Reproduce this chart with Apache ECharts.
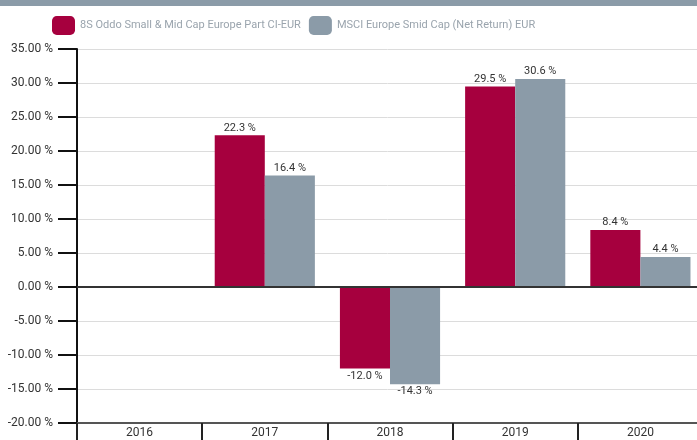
<!DOCTYPE html>
<html>
<head>
<meta charset="utf-8">
<script src="https://cdn.jsdelivr.net/npm/echarts@6/dist/echarts.min.js"></script>
<style>
  html, body { margin: 0; padding: 0; background: #fff; }
  #chart { width: 697px; height: 440px; }
</style>
</head>
<body>
<div id="chart"></div>
<script>
// 年度业绩柱状图
const years = ["2016", "2017", "2018", "2019", "2020"];
const fundName = "8S Oddo Small & Mid Cap Europe Part CI-EUR";
const indexName = "MSCI Europe Smid Cap (Net Return) EUR";
const fundValues = [null, 22.3, -12.0, 29.5, 8.4];
const indexValues = [null, 16.4, -14.3, 30.6, 4.4];

const RED = "#a6003e";
const GREY = "#8b9ba8";

// 负值标签放在柱子下面
const toData = (arr) =>
  arr.map((v) => ({
    value: v,
    label: { position: v != null && v < 0 ? "bottom" : "top" },
  }));

const barLabel = {
  show: true,
  distance: 2,
  color: "#333",
  fontSize: 11,
  fontFamily: "Roboto",
  formatter: (p) => p.value.toFixed(1) + " %",
};

const myChart = echarts.init(document.getElementById("chart"));

const option = {
  animation: false,
  graphic: [
    {
      type: "rect",
      left: 0,
      top: 0,
      shape: { width: 697, height: 6 },
      style: { fill: GREY },
    },
  ],
  legend: {
    left: 47,
    top: 11,
    itemWidth: 23,
    itemHeight: 19,
    itemGap: 8,
    icon: "roundRect",
    textStyle: {
      color: "#9aa4ad",
      fontSize: 11,
      fontFamily: "Roboto",
    },
    data: [fundName, indexName],
  },
  grid: {
    left: 77,
    width: 626,
    top: 49,
    bottom: 17,
    outerBoundsMode: "none",
  },
  xAxis: {
    type: "category",
    data: years,
    axisLine: { onZero: false, lineStyle: { color: "#555", width: 2 } },
    axisTick: { show: true, length: 17, lineStyle: { color: "#222", width: 2 } },
    axisLabel: { color: "#333", fontSize: 12, fontFamily: "Roboto", margin: 4 },
  },
  yAxis: {
    type: "value",
    min: -20,
    max: 35,
    interval: 5,
    axisLine: { show: true, lineStyle: { color: "#111", width: 2 } },
    axisTick: { show: true, length: 19, lineStyle: { color: "#111", width: 2 } },
    axisLabel: {
      color: "#333",
      fontSize: 12,
      fontFamily: "Roboto",
      margin: 24,
      formatter: (v) => v.toFixed(2) + " %",
    },
    splitLine: { lineStyle: { color: "#dcdcdc", width: 1 } },
  },
  series: [
    {
      name: fundName,
      type: "bar",
      barCategoryGap: "20%",
      barGap: "0%",
      itemStyle: { color: RED },
      label: barLabel,
      data: toData(fundValues),
      markLine: {
        silent: true,
        symbol: "none",
        label: { show: false },
        lineStyle: { color: "#333", width: 2, type: "solid" },
        data: [{ yAxis: 0 }],
      },
    },
    {
      name: indexName,
      type: "bar",
      barCategoryGap: "20%",
      barGap: "0%",
      itemStyle: { color: GREY },
      label: barLabel,
      data: toData(indexValues),
    },
  ],
};

myChart.setOption(option);
</script>
</body>
</html>
